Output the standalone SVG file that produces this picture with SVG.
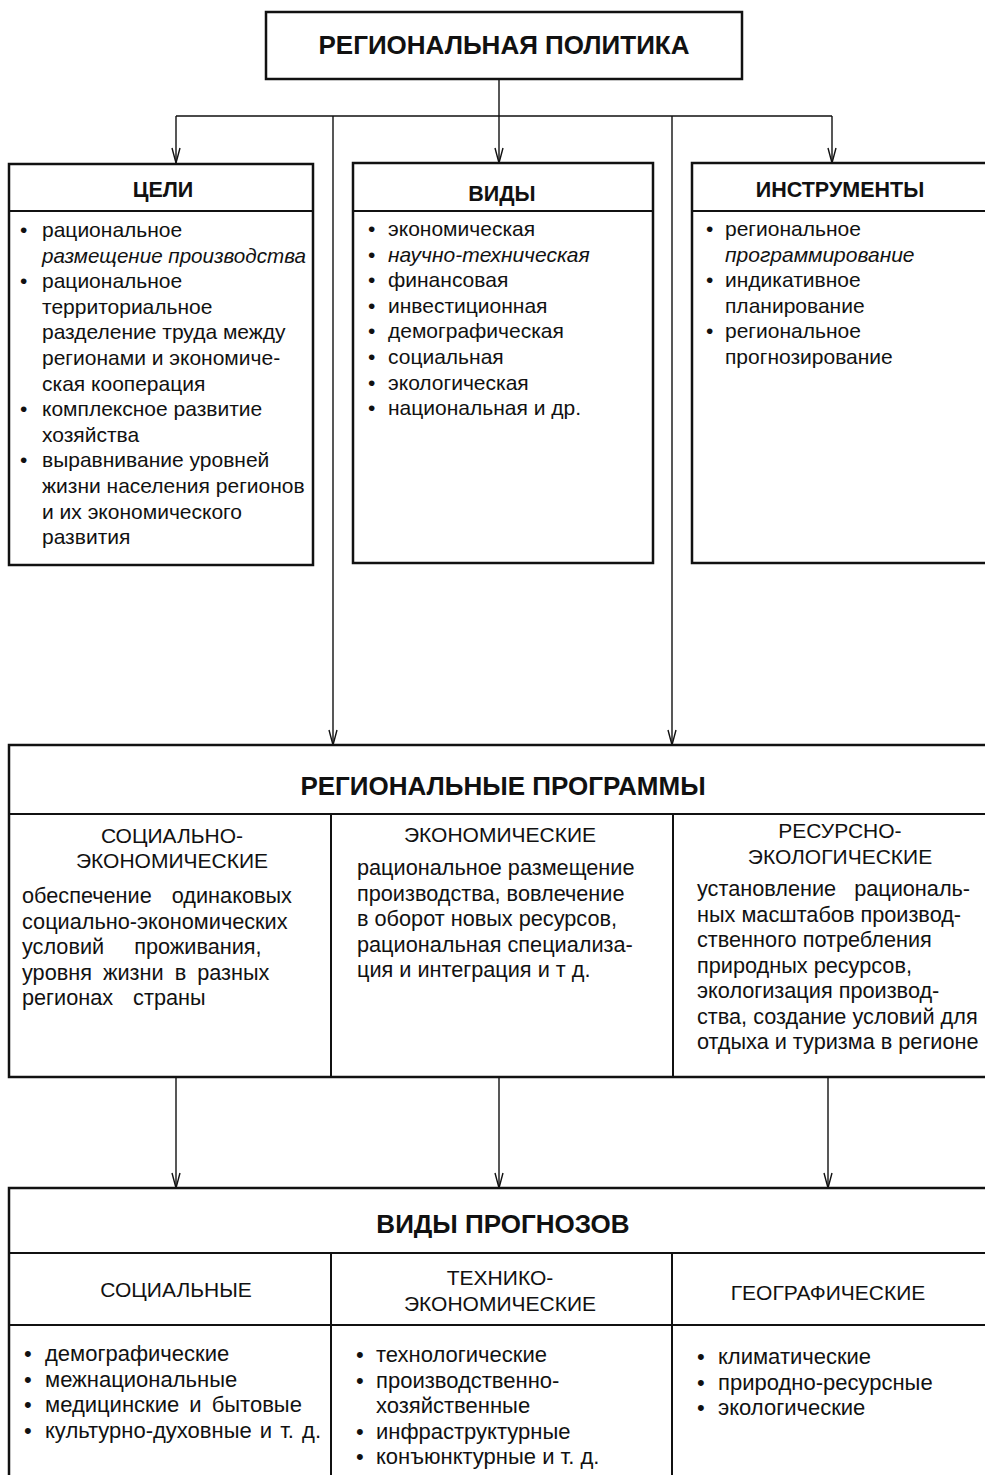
<svg xmlns="http://www.w3.org/2000/svg" width="985" height="1475" viewBox="0 0 985 1475">
<style>
.box{fill:#fff;stroke:#111;stroke-width:2.5}
.sep{stroke:#111;stroke-width:2;fill:none}
.con{stroke:#111;stroke-width:1.4;fill:none}
text{font-family:"Liberation Sans",Arial,sans-serif;fill:#111}
.t1{font-size:26px;font-weight:bold;text-anchor:middle}
.t2{font-size:21.5px;font-weight:bold;text-anchor:middle}
.h{font-size:21px;text-anchor:middle}
.b{font-size:21px}
.b2{font-size:21.7px}
.b3{font-size:22px}
.i{font-style:italic}
</style>
<defs>
<marker id="arr" viewBox="-16 -5 17 10" refX="0" refY="0" markerWidth="17" markerHeight="10" markerUnits="userSpaceOnUse" orient="auto">
<path d="M-15,-4 L0,0 L-15,4" fill="none" stroke="#111" stroke-width="1.4"/>
</marker>
</defs>

<g id="connectors">
<path class="con" d="M499,79 V116 M176,116 H832"/>
<path class="con" d="M176,116 V163" marker-end="url(#arr)"/>
<path class="con" d="M499,116 V163" marker-end="url(#arr)"/>
<path class="con" d="M832,116 V163" marker-end="url(#arr)"/>
<path class="con" d="M333,116 V745" marker-end="url(#arr)"/>
<path class="con" d="M672,116 V745" marker-end="url(#arr)"/>
<path class="con" d="M176,1077 V1188" marker-end="url(#arr)"/>
<path class="con" d="M499,1077 V1188" marker-end="url(#arr)"/>
<path class="con" d="M828,1077 V1188" marker-end="url(#arr)"/>
</g>

<g id="policy">
<rect class="box" x="266" y="12" width="476" height="67"/>
<text class="t1" x="504" y="54">РЕГИОНАЛЬНАЯ ПОЛИТИКА</text>
</g>

<g id="goals">
<rect class="box" x="9" y="164" width="304" height="401"/>
<line class="sep" x1="9" y1="211" x2="313" y2="211"/>
<text class="t2" x="163" y="197">ЦЕЛИ</text>
<text class="b">
<tspan x="20" y="237">•</tspan><tspan x="42" y="237">рациональное</tspan>
<tspan class="i" x="42" y="262.6" font-size="20.6">размещение производства</tspan>
<tspan x="20" y="288.2">•</tspan><tspan x="42" y="288.2">рациональное</tspan>
<tspan x="42" y="313.8">территориальное</tspan>
<tspan x="42" y="339.4">разделение труда между</tspan>
<tspan x="42" y="365">регионами и экономиче-</tspan>
<tspan x="42" y="390.6">ская кооперация</tspan>
<tspan x="20" y="416.2">•</tspan><tspan x="42" y="416.2">комплексное развитие</tspan>
<tspan x="42" y="441.8">хозяйства</tspan>
<tspan x="20" y="467.4">•</tspan><tspan x="42" y="467.4">выравнивание уровней</tspan>
<tspan x="42" y="493">жизни населения регионов</tspan>
<tspan x="42" y="518.6">и их экономического</tspan>
<tspan x="42" y="544.2">развития</tspan>
</text>
</g>

<g id="kinds">
<rect class="box" x="353" y="163" width="300" height="400"/>
<line class="sep" x1="353" y1="211" x2="653" y2="211"/>
<text class="t2" x="502" y="201">ВИДЫ</text>
<text class="b">
<tspan x="368" y="236">•</tspan><tspan x="388" y="236">экономическая</tspan>
<tspan x="368" y="261.6">•</tspan><tspan class="i" x="388" y="261.6">научно-техническая</tspan>
<tspan x="368" y="287.2">•</tspan><tspan x="388" y="287.2">финансовая</tspan>
<tspan x="368" y="312.8">•</tspan><tspan x="388" y="312.8">инвестиционная</tspan>
<tspan x="368" y="338.4">•</tspan><tspan x="388" y="338.4">демографическая</tspan>
<tspan x="368" y="364">•</tspan><tspan x="388" y="364">социальная</tspan>
<tspan x="368" y="389.6">•</tspan><tspan x="388" y="389.6">экологическая</tspan>
<tspan x="368" y="415.2">•</tspan><tspan x="388" y="415.2">национальная и др.</tspan>
</text>
</g>

<g id="tools">
<rect class="box" x="692" y="163" width="310" height="400"/>
<line class="sep" x1="692" y1="211" x2="1002" y2="211"/>
<text class="t2" x="840" y="197">ИНСТРУМЕНТЫ</text>
<text class="b">
<tspan x="706" y="236">•</tspan><tspan x="725" y="236">региональное</tspan>
<tspan class="i" x="725" y="261.6">программирование</tspan>
<tspan x="706" y="287.2">•</tspan><tspan x="725" y="287.2">индикативное</tspan>
<tspan x="725" y="312.8">планирование</tspan>
<tspan x="706" y="338.4">•</tspan><tspan x="725" y="338.4">региональное</tspan>
<tspan x="725" y="364">прогнозирование</tspan>
</text>
</g>

<g id="programs">
<rect class="box" x="9" y="745" width="993" height="332"/>
<line class="sep" x1="9" y1="814" x2="1002" y2="814"/>
<line class="sep" x1="331" y1="814" x2="331" y2="1077"/>
<line class="sep" x1="673" y1="814" x2="673" y2="1077"/>
<text class="t1" x="503" y="795">РЕГИОНАЛЬНЫЕ ПРОГРАММЫ</text>
<text class="h" x="172" y="843">СОЦИАЛЬНО-</text>
<text class="h" x="172" y="868">ЭКОНОМИЧЕСКИЕ</text>
<text class="b2">
<tspan x="22" y="903" word-spacing="14">обеспечение одинаковых</tspan>
<tspan x="22" y="928.5">социально-экономических</tspan>
<tspan x="22" y="954" word-spacing="24">условий проживания,</tspan>
<tspan x="22" y="979.5" word-spacing="5">уровня жизни в разных</tspan>
<tspan x="22" y="1005" word-spacing="14">регионах страны</tspan>
</text>
<text class="h" x="500" y="842">ЭКОНОМИЧЕСКИЕ</text>
<text class="b2">
<tspan x="357" y="875">рациональное размещение</tspan>
<tspan x="357" y="900.5">производства, вовлечение</tspan>
<tspan x="357" y="926">в оборот новых ресурсов,</tspan>
<tspan x="357" y="951.5">рациональная специализа-</tspan>
<tspan x="357" y="977">ция и интеграция и т д.</tspan>
</text>
<text class="h" x="840" y="838">РЕСУРСНО-</text>
<text class="h" x="840" y="864">ЭКОЛОГИЧЕСКИЕ</text>
<text class="b2">
<tspan x="697" y="896" word-spacing="12">установление рациональ-</tspan>
<tspan x="697" y="921.5">ных масштабов производ-</tspan>
<tspan x="697" y="947">ственного потребления</tspan>
<tspan x="697" y="972.5">природных ресурсов,</tspan>
<tspan x="697" y="998">экологизация производ-</tspan>
<tspan x="697" y="1023.5">ства, создание условий для</tspan>
<tspan x="697" y="1049">отдыха и туризма в регионе</tspan>
</text>
</g>

<g id="forecasts">
<rect class="box" x="9" y="1188" width="993" height="300"/>
<line class="sep" x1="9" y1="1253" x2="1002" y2="1253"/>
<line class="sep" x1="9" y1="1325" x2="1002" y2="1325"/>
<line class="sep" x1="331" y1="1253" x2="331" y2="1488"/>
<line class="sep" x1="672" y1="1253" x2="672" y2="1488"/>
<text class="t1" x="503" y="1233">ВИДЫ ПРОГНОЗОВ</text>
<text class="h" x="176" y="1297">СОЦИАЛЬНЫЕ</text>
<text class="h" x="500" y="1285">ТЕХНИКО-</text>
<text class="h" x="500" y="1311">ЭКОНОМИЧЕСКИЕ</text>
<text class="h" x="828" y="1300">ГЕОГРАФИЧЕСКИЕ</text>
<text class="b3">
<tspan x="24" y="1361">•</tspan><tspan x="45" y="1361">демографические</tspan>
<tspan x="24" y="1386.5">•</tspan><tspan x="45" y="1386.5">межнациональные</tspan>
<tspan x="24" y="1412">•</tspan><tspan x="45" y="1412" word-spacing="4">медицинские и бытовые</tspan>
<tspan x="24" y="1437.5">•</tspan><tspan x="45" y="1437.5" word-spacing="2">культурно-духовные и т. д.</tspan>
</text>
<text class="b3">
<tspan x="356" y="1362">•</tspan><tspan x="376" y="1362">технологические</tspan>
<tspan x="356" y="1387.5">•</tspan><tspan x="376" y="1387.5">производственно-</tspan>
<tspan x="376" y="1413">хозяйственные</tspan>
<tspan x="356" y="1438.5">•</tspan><tspan x="376" y="1438.5">инфраструктурные</tspan>
<tspan x="356" y="1464">•</tspan><tspan x="376" y="1464">конъюнктурные и т. д.</tspan>
</text>
<text class="b3">
<tspan x="697" y="1364">•</tspan><tspan x="718" y="1364">климатические</tspan>
<tspan x="697" y="1389.5">•</tspan><tspan x="718" y="1389.5">природно-ресурсные</tspan>
<tspan x="697" y="1415">•</tspan><tspan x="718" y="1415">экологические</tspan>
</text>
</g>
</svg>
